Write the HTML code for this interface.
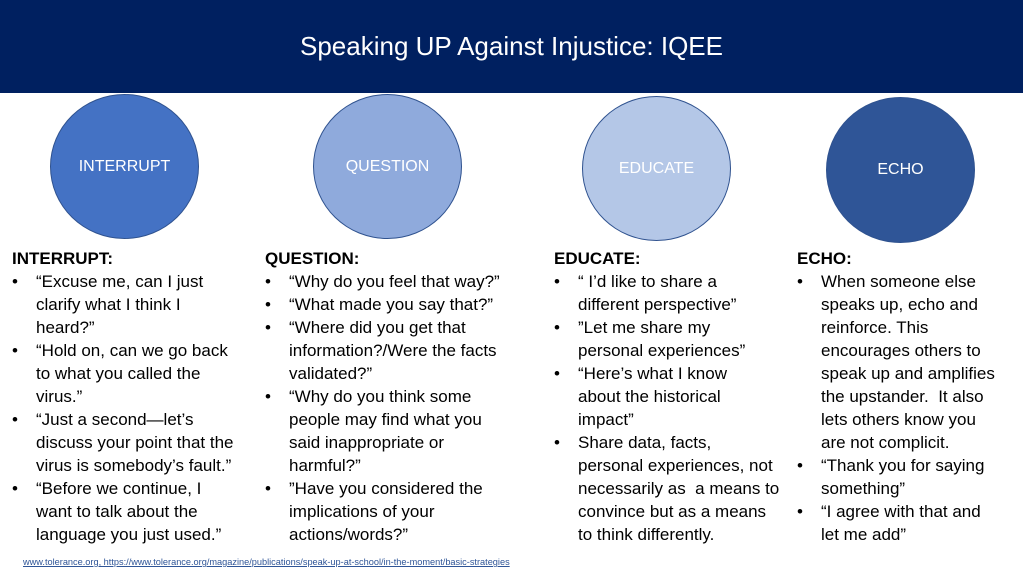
<!DOCTYPE html>
<html><head><meta charset="utf-8"><style>
body{margin:0;width:1023px;height:575px;background:#fff;position:relative;overflow:hidden;font-family:"Liberation Sans",Arial,sans-serif}
.hdr{position:absolute;left:0;top:0;width:1023px;height:93px;background:#002060;color:#fff;font-size:26px;text-align:center;line-height:92px}
.c{position:absolute;border-radius:50%;border:1px solid #2f528f;color:#fff;font-size:16px;display:flex;align-items:center;justify-content:center;box-sizing:border-box}
.col{position:absolute;top:247px;font-size:17px;line-height:23px;color:#000;white-space:nowrap}
.col b{display:block}
.li{position:relative;padding-left:24px}
.li:before{content:"•";position:absolute;left:0}
.ft{position:absolute;left:23px;top:557px;font-size:9.2px;color:#2f5597;text-decoration:underline}
</style></head><body>
<div class="hdr">Speaking UP Against Injustice: IQEE</div>
<div class="c" style="left:50px;top:94px;width:149px;height:145px;background:#4472c4">INTERRUPT</div>
<div class="c" style="left:313px;top:94px;width:149px;height:145px;background:#8faadc">QUESTION</div>
<div class="c" style="left:582px;top:96px;width:149px;height:145px;background:#b4c7e7">EDUCATE</div>
<div class="c" style="left:826px;top:97px;width:149px;height:146px;background:#2f5597">ECHO</div>

<div class="col" style="left:12px"><b>INTERRUPT:</b>
<div class="li">“Excuse me, can I just<br>clarify what I think I<br>heard?”</div>
<div class="li">“Hold on, can we go back<br>to what you called the<br>virus.”</div>
<div class="li">“Just a second—let’s<br>discuss your point that the<br>virus is somebody’s fault.”</div>
<div class="li">“Before we continue, I<br>want to talk about the<br>language you just used.”</div>
</div>
<div class="col" style="left:265px"><b>QUESTION:</b>
<div class="li">“Why do you feel that way?”</div>
<div class="li">“What made you say that?”</div>
<div class="li">“Where did you get that<br>information?/Were the facts<br>validated?”</div>
<div class="li">“Why do you think some<br>people may find what you<br>said inappropriate or<br>harmful?”</div>
<div class="li">”Have you considered the<br>implications of your<br>actions/words?”</div>
</div>
<div class="col" style="left:554px"><b>EDUCATE:</b>
<div class="li">“ I’d like to share a<br>different perspective”</div>
<div class="li">”Let me share my<br>personal experiences”</div>
<div class="li">“Here’s what I know<br>about the historical<br>impact”</div>
<div class="li">Share data, facts,<br>personal experiences, not<br>necessarily as &nbsp;a means to<br>convince but as a means<br>to think differently.</div>
</div>
<div class="col" style="left:797px"><b>ECHO:</b>
<div class="li">When someone else<br>speaks up, echo and<br>reinforce. This<br>encourages others to<br>speak up and amplifies<br>the upstander. &nbsp;It also<br>lets others know you<br>are not complicit.</div>
<div class="li">“Thank you for saying<br>something”</div>
<div class="li">“I agree with that and<br>let me add”</div>
</div>
<div class="ft">www.tolerance.org, https://www.tolerance.org/magazine/publications/speak-up-at-school/in-the-moment/basic-strategies</div>
</body></html>
